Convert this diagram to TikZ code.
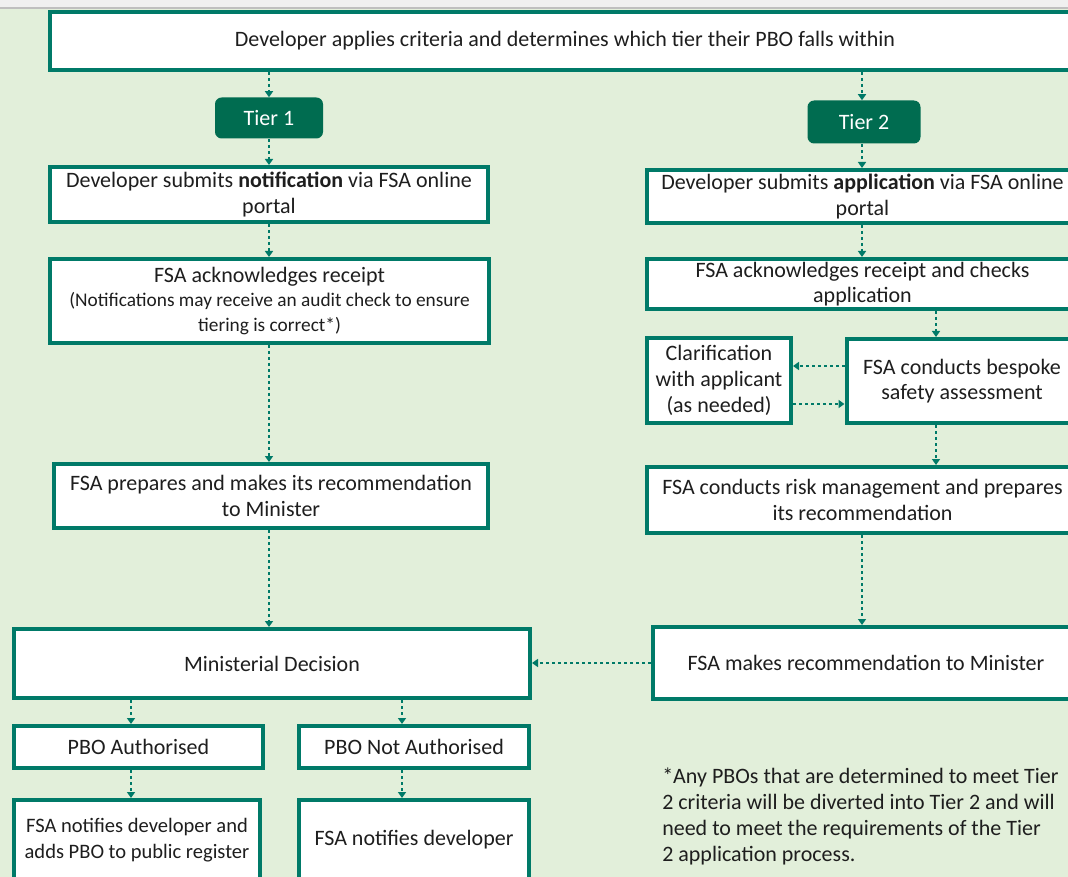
\documentclass[tikz,border=0pt]{standalone}
\usepackage{fontspec}
\setmainfont{Carlito}
\usetikzlibrary{arrows.meta}

\definecolor{bggreen}{RGB}{226,239,218}
\definecolor{edgeteal}{RGB}{0,122,104}
\definecolor{tiergreen}{RGB}{0,108,80}
\definecolor{inkgrey}{RGB}{30,30,30}

\tikzset{
  boxsize/.style 2 args={minimum width=#1*0.75pt, minimum height=#2*0.75pt},
  stage/.style={draw=edgeteal, line width=3pt, fill=white, inner sep=0pt,
    align=center, text=inkgrey, font=\fontsize{16.5pt}{19pt}\selectfont},
  tierbox/.style={fill=tiergreen, rounded corners=5pt, inner sep=0pt,
    text=white, font=\fontsize{16.5pt}{19pt}\selectfont},
  flow/.style={draw=edgeteal, line width=2pt, dash pattern=on 2.2pt off 2.3pt,
    -{Triangle[width=6pt,length=4.5pt]}},
}

\begin{document}
\begin{tikzpicture}[x=0.75pt, y=-0.75pt]
  \useasboundingbox (0,0) rectangle (1068,877);
  \clip (0,0) rectangle (1068,877);
  \fill [bggreen] (0,0) rectangle (1068,877);
  \fill [black!6] (0,0) rectangle (1068,8);
  \draw [black!25, line width=0.8pt] (0,8) -- (1068,8);

  % top and tiers
  \node [stage, boxsize={1030}{58}] (top) at (565,41)
    {Developer applies criteria and determines which tier their PBO falls within};
  \node [tierbox, boxsize={108}{41}] (tierone) at (269,118) {Tier 1};
  \node [tierbox, boxsize={113}{43}] (tiertwo) at (864,122) {Tier 2};

  % tier 1 column
  \node [stage, boxsize={438}{55}] (lsubmit) at (269,194.5)
    {Developer submits \textbf{notification} via FSA online\\portal};
  \node [stage, boxsize={439}{84}] (lack) at (269.5,301)
    {FSA acknowledges receipt\\[-1pt]
     \fontsize{14.5pt}{17.5pt}\selectfont (Notifications may receive an audit check to ensure\\
     \fontsize{14.5pt}{17.5pt}\selectfont tiering is correct*)};
  \node [stage, boxsize={434}{64}] (lrec) at (271,496)
    {FSA prepares and makes its recommendation\\to Minister};
  \node [stage, boxsize={516}{69}] (decision) at (272,663.5) {Ministerial Decision};
  \node [stage, boxsize={249}{42}] (auth) at (138.5,747) {PBO Authorised};
  \node [stage, boxsize={230}{42}] (notauth) at (414,747) {PBO Not Authorised};
  \node [stage, boxsize={246}{80}, font=\fontsize{15.4pt}{19pt}\selectfont] (notifyadd) at (137,840)
    {FSA notifies developer and\\adds PBO to public register};
  \node [stage, boxsize={230}{80}] (notify) at (414,840) {FSA notifies developer};

  % tier 2 column
  \node [stage, boxsize={431}{53}] (rsubmit) at (862.5,196.5)
    {Developer submits \textbf{application} via FSA online\\portal};
  \node [stage, boxsize={431}{50}] (rack) at (862.5,284)
    {FSA acknowledges receipt and checks\\application};
  \node [stage, boxsize={144}{85}, font=\fontsize{16.5pt}{19.5pt}\selectfont] (clarify) at (719,380.5)
    {Clarification\\with applicant\\(as needed)};
  \node [stage, boxsize={231}{84}] (bespoke) at (962,381)
    {FSA conducts bespoke\\safety assessment};
  \node [stage, boxsize={431}{66}] (rrisk) at (862.5,500)
    {FSA conducts risk management and prepares\\its recommendation};
  \node [stage, boxsize={426}{72}] (rrec) at (866,663)
    {FSA makes recommendation to Minister};

  \node [anchor=north west, align=left, inner sep=0pt, text=inkgrey,
    font=\fontsize{16.5pt}{19.5pt}\selectfont] (note) at (662,768)
    {*Any PBOs that are determined to meet Tier\\
     2 criteria will be diverted into Tier 2 and will\\
     need to meet the requirements of the Tier\\
     2 application process.};

  % reference columns for the connectors
  \coordinate (lcol) at (269,0);
  \coordinate (rcol) at (862,0);
  \coordinate (bcol) at (936,0);
  \coordinate (acol) at (131,0);
  \coordinate (ncol) at (402,0);
  \coordinate (upper) at (0,366);
  \coordinate (lower) at (0,404);

  \draw [flow] (top.south -| lcol) -- (tierone.north -| lcol);
  \draw [flow] (tierone.south -| lcol) -- (lsubmit.north -| lcol);
  \draw [flow] (lsubmit.south -| lcol) -- (lack.north -| lcol);
  \draw [flow] (lack.south -| lcol) -- (lrec.north -| lcol);
  \draw [flow] (lrec.south -| lcol) -- (decision.north -| lcol);

  \draw [flow] (top.south -| rcol) -- (tiertwo.north -| rcol);
  \draw [flow] (tiertwo.south -| rcol) -- (rsubmit.north -| rcol);
  \draw [flow] (rsubmit.south -| rcol) -- (rack.north -| rcol);
  \draw [flow] (rack.south -| bcol) -- (bespoke.north -| bcol);
  \draw [flow] (bespoke.west |- upper) -- (clarify.east |- upper);
  \draw [flow] (clarify.east |- lower) -- (bespoke.west |- lower);
  \draw [flow] (bespoke.south -| bcol) -- (rrisk.north -| bcol);
  \draw [flow] (rrisk.south -| rcol) -- (rrec.north -| rcol);
  \draw [flow] (rrec.west) -- (decision.east |- rrec.west);

  \draw [flow] (decision.south -| acol) -- (auth.north -| acol);
  \draw [flow] (decision.south -| ncol) -- (notauth.north -| ncol);
  \draw [flow] (auth.south -| acol) -- (notifyadd.north -| acol);
  \draw [flow] (notauth.south -| ncol) -- (notify.north -| ncol);
\end{tikzpicture}
\end{document}
